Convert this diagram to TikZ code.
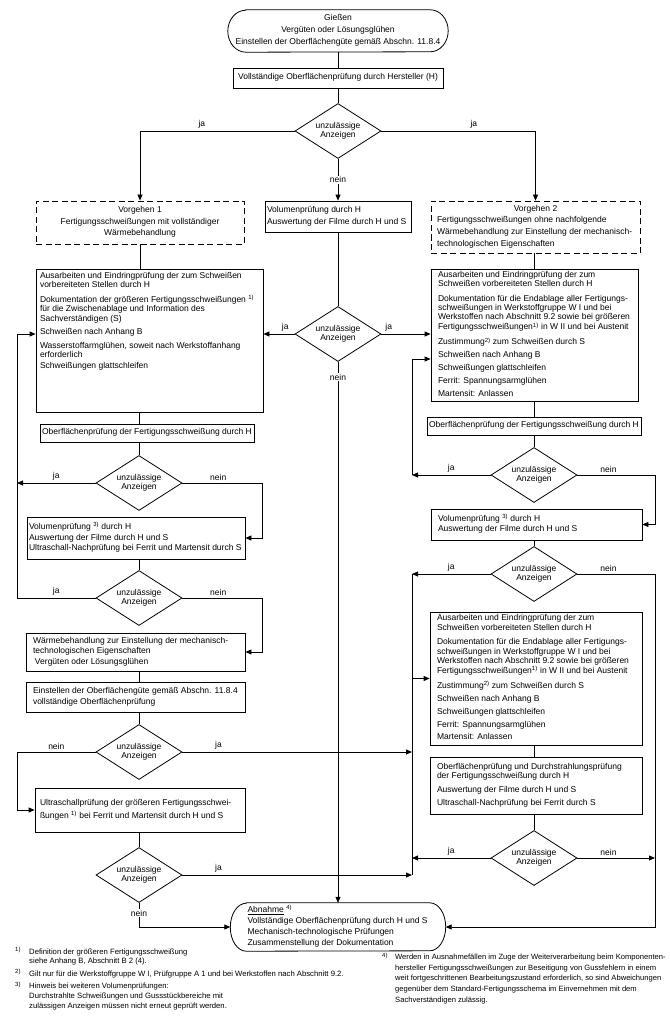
\documentclass[tikz,border=0pt]{standalone}
\usepackage{fontspec}
\setmainfont{Liberation Sans}
\usetikzlibrary{arrows.meta,shapes.geometric,calc}
\newcommand{\TB}[4]{\parbox[c][#2][c]{#1}{\hspace*{#3}\begin{tabular}[t]{@{}l@{}}#4\end{tabular}}}
\newcommand{\TBtop}[5]{\parbox[c][#2][t]{#1}{\vspace*{#4}\hspace*{#3}\begin{tabular}[t]{@{}l@{}}#5\end{tabular}}}
\newcommand{\TBc}[3]{\parbox[c][#2][c]{#1}{\centering\begin{tabular}[t]{@{}c@{}}#3\end{tabular}}}
\newcommand{\fnmark}[1]{\raisebox{2.6pt}{\fontsize{6}{6}\selectfont #1}}
\newcommand{\stadium}[3]{\draw[ln] ([xshift=#2]#1.north west) -- ([xshift=-#2]#1.north east) arc[start angle=90,end angle=-90,x radius=#2,y radius=#3] -- ([xshift=#2]#1.south west) arc[start angle=270,end angle=90,x radius=#2,y radius=#3] -- cycle;}
\tikzset{
  every node/.style={font=\fontsize{8.5}{9.4}\selectfont},
  ln/.style={line width=0.8pt},
  box/.style={draw, line width=0.8pt, inner sep=0pt},
  dbox/.style={box, dash pattern=on 6pt off 3.5pt},
  term/.style={draw=none, inner sep=0pt},
  dia/.style={draw, diamond, aspect=1.5, inner sep=0pt, minimum width=86pt, minimum height=55pt, align=center, line width=0.8pt},
  arr/.style={-{Triangle[length=6pt,width=5pt]}},
  lbl/.style={inner sep=1pt},
  fn/.style={inner sep=0pt, anchor=north west}
}
\begin{document}
\begin{tikzpicture}[x=1pt,y=-1pt]
\fill[white] (0,0) rectangle (669,1024);
\useasboundingbox (0,0) rectangle (669,1024);

\coordinate (xL) at (17,0);
\coordinate (xM) at (262,0);
\coordinate (xR1) at (412,0);
\coordinate (xR2) at (655,0);

% top
\node[term] (S) at (338,31) {\TBc{220pt}{42pt}{Gießen\\[2.5pt]Vergüten oder Lösungsglühen\\[2.5pt]Einstellen der Oberflächengüte gemäß Abschn. 11.8.4}};
\stadium{S}{18pt}{21pt}
\node[box] (B2) at (338,78) {\TBc{210pt}{20pt}{Vollständige Oberflächenprüfung durch Hersteller (H)}};
\node[dia] (D1) at (338,131) {unzulässige\\Anzeigen};

% second row
\node[dbox] (V1) at (140,222.5) {\TBc{208pt}{43pt}{Vorgehen 1\\[2pt]Fertigungsschweißungen mit vollständiger\\[2pt]Wärmebehandlung}};
\node[box] (VC) at (338,216.5) {\TB{146pt}{31pt}{2pt}{Volumenprüfung durch H\\[2pt]Auswertung der Filme durch H und S}};
\node[dbox] (V2) at (535.5,227) {\TB{209pt}{52pt}{6pt}{\makebox[197pt][c]{Vorgehen 2}\\[2.5pt]Fertigungsschweißungen ohne nachfolgende\\[2.5pt]Wärmebehandlung zur Einstellung der mechanisch-\\[2.5pt]technologischen Eigenschaften}};

% big boxes
\node[box] (B1) at (149.5,340.5) {\TBtop{227pt}{143pt}{4pt}{2.5pt}{Ausarbeiten und Eindringprüfung der zum Schweißen\\
vorbereiteten Stellen durch H\\[5pt]
Dokumentation der größeren Fertigungsschweißungen \textsuperscript{1)}\\
für die Zwischenablage und Information des\\
Sachverständigen (S)\\[3.5pt]
Schweißen nach Anhang B\\[5pt]
Wasserstoffarmglühen, soweit nach Werkstoffanhang\\
erforderlich\\[1pt]
Schweißungen glattschleifen}};
\node[dia] (D2) at (338,334) {unzulässige\\Anzeigen};
\node[box] (BR1) at (534.5,335) {\TB{207pt}{132pt}{7pt}{Ausarbeiten und Eindringprüfung der zum\\
Schweißen vorbereiteten Stellen durch H\\[5pt]
Dokumentation für die Endablage aller Fertigungs-\\
schweißungen in Werkstoffgruppe W I und bei\\
Werkstoffen nach Abschnitt 9.2 sowie bei größeren\\
Fertigungsschweißungen\textsuperscript{1)} in W II und bei Austenit\\[5pt]
Zustimmung\textsuperscript{2)} zum Schweißen durch S\\[3.5pt]
Schweißen nach Anhang B\\[3.5pt]
Schweißungen glattschleifen\\[3.5pt]
Ferrit: Spannungsarmglühen\\[3.5pt]
Martensit: Anlassen}};
\coordinate (BR1in) at ($(BR1.west)+(0,24)$);

% left column
\node[box] (OL) at (147,433) {\TBc{214pt}{18pt}{Oberflächenprüfung der Fertigungsschweißung durch H}};
\node[dia] (DL1) at (139,483) {unzulässige\\Anzeigen};
\node[box] (VL) at (136,538) {\TB{218pt}{42pt}{2pt}{Volumenprüfung \textsuperscript{3)} durch H\\[1pt]Auswertung der Filme durch H und S\\[1pt]Ultraschall-Nachprüfung bei Ferrit und Martensit durch S}};
\node[dia] (DL2) at (139,598) {unzulässige\\Anzeigen};
\node[box] (W) at (135.5,652) {\TB{219pt}{38pt}{7pt}{Wärmebehandlung zur Einstellung der mechanisch-\\technologischen Eigenschaften\\[1.5pt]\hspace{2pt}Vergüten oder Lösungsglühen}};
\node[box] (E) at (135.5,697) {\TB{219pt}{30pt}{7pt}{Einstellen der Oberflächengüte gemäß Abschn. 11.8.4\\[1.5pt]vollständige Oberflächenprüfung}};
\node[dia] (DL3) at (139,752) {unzulässige\\Anzeigen};
\node[box] (U) at (140,810) {\TB{210pt}{44pt}{5pt}{Ultraschallprüfung der größeren Fertigungsschwei-\\[3pt]ßungen \textsuperscript{1)} bei Ferrit und Martensit durch H und S}};
\node[dia] (DL4) at (139,875) {unzulässige\\Anzeigen};

% right column
\node[box] (OR) at (534,426) {\TBc{214pt}{18pt}{Oberflächenprüfung der Fertigungsschweißung durch H}};
\node[dia] (DR1) at (534,475) {unzulässige\\Anzeigen};
\node[box] (VR) at (536.5,524.5) {\TB{211pt}{31pt}{7pt}{Volumenprüfung \textsuperscript{3)} durch H\\[1pt]Auswertung der Filme durch H und S}};
\node[dia] (DR2) at (534,574) {unzulässige\\Anzeigen};
\node[box] (BR2) at (536,678.5) {\TB{212pt}{133pt}{7pt}{Ausarbeiten und Eindringprüfung der zum\\
Schweißen vorbereiteten Stellen durch H\\[5pt]
Dokumentation für die Endablage aller Fertigungs-\\
schweißungen in Werkstoffgruppe W I und bei\\
Werkstoffen nach Abschnitt 9.2 sowie bei größeren\\
Fertigungsschweißungen\textsuperscript{1)} in W II und bei Austenit\\[5pt]
Zustimmung\textsuperscript{2)} zum Schweißen durch S\\[3.5pt]
Schweißen nach Anhang B\\[3.5pt]
Schweißungen glattschleifen\\[3.5pt]
Ferrit: Spannungsarmglühen\\[3.5pt]
Martensit: Anlassen}};
\node[box] (OR3) at (536,785.5) {\TB{212pt}{57pt}{7pt}{Oberflächenprüfung und Durchstrahlungsprüfung\\
der Fertigungsschweißung durch H\\[5pt]
Auswertung der Filme durch H und S\\[3.5pt]
Ultraschall-Nachprüfung bei Ferrit durch S}};
\node[dia] (DR3) at (534,858) {unzulässige\\Anzeigen};

% end
\node[term] (AB) at (338,927) {\TB{215pt}{48pt}{17pt}{\underline{Abnahme} \textsuperscript{4)}\\[1.5pt]Vollständige Oberflächenprüfung durch H und S\\[1.5pt]Mechanisch-technologische Prüfungen\\[1.5pt]Zusammenstellung der Dokumentation}};
\stadium{AB}{16pt}{24pt}

% footnotes
\node[fn] (F1) at (15,947) {\fontsize{7.7}{9.8}\selectfont\begin{tabular}{@{}p{14pt}@{}l@{}}
\fnmark{1)} & Definition der größeren Fertigungsschweißung\\
 & siehe Anhang B, Abschnitt B 2 (4).\\[2.5pt]
\fnmark{2)} & Gilt nur für die Werkstoffgruppe W I, Prüfgruppe A 1 und bei Werkstoffen nach Abschnitt 9.2.\\[2.5pt]
\fnmark{3)} & Hinweis bei weiteren Volumenprüfungen:\\
 & Durchstrahlte Schweißungen und Gussstückbereiche mit\\
 & zulässigen Anzeigen müssen nicht erneut geprüft werden.
\end{tabular}};
\node[fn] (F4) at (382,952) {\fontsize{7.6}{10.6}\selectfont\begin{tabular}{@{}p{13pt}@{}l@{}}
\fnmark{4)} & Werden in Ausnahmefällen im Zuge der Weiterverarbeitung beim Komponenten-\\
 & hersteller Fertigungsschweißungen zur Beseitigung von Gussfehlern in einem\\
 & weit fortgeschrittenen Bearbeitungszustand erforderlich, so sind Abweichungen\\
 & gegenüber dem Standard-Fertigungsschema im Einvernehmen mit dem\\
 & Sachverständigen zulässig.
\end{tabular}};

% connectors top
\draw[ln] (S.south) -- (B2.north);
\draw[ln] (B2.south) -- (D1.north);
\draw[ln,arr] (D1.west) -- node[lbl,above=1pt,pos=0.6]{ja} (V1.north |- D1.west) -- (V1.north);
\draw[ln,arr] (D1.east) -- node[lbl,above=1pt,pos=0.6]{ja} (V2.north |- D1.east) -- (V2.north);
\draw[ln,arr] (D1.south) -- node[lbl,fill=white]{nein} (VC.north);
\draw[ln] (V1.south) -- (V1.south |- B1.north);
\draw[ln] (VC.south) -- (D2.north);
\draw[ln] (DR1.north |- V2.south) -- (DR1.north |- BR1.north);

% middle diamond
\draw[ln,arr] (D2.west) -- node[lbl,above=1pt,pos=0.3]{ja} (D2.west -| B1.east);
\draw[ln,arr] (D2.east) -- node[lbl,above=1pt,pos=0.15]{ja} (D2.east -| BR1.west);
\draw[ln,arr] (D2.south) -- node[lbl,fill=white,pos=0.028]{nein} (AB.north);

% left chain
\draw[ln] (DL1.north |- B1.south) -- (DL1.north |- OL.north);
\draw[ln] (DL1.north |- OL.south) -- (DL1.north);
\draw[ln,arr] (DL1.west) -- node[lbl,above=1pt]{ja} (xL |- DL1.west);
\draw[ln,arr] (DL1.east) -- node[lbl,above=1pt,pos=0.45]{nein} (xM |- DL1.east) -- (xM |- VL.east) -- (VL.east);
\draw[ln] (DL2.north |- VL.south) -- (DL2.north);
\draw[ln,arr] (DL2.west) -- node[lbl,above=1pt]{ja} (xL |- DL2.west) -- (xL |- D2.west) -- (B1.west |- D2.west);
\draw[ln,arr] (DL2.east) -- node[lbl,above=1pt,pos=0.45]{nein} (xM |- DL2.east) -- (xM |- W.east) -- (W.east);
\draw[ln] (DL3.north |- W.south) -- (DL3.north |- E.north);
\draw[ln] (DL3.north |- E.south) -- (DL3.north);
\draw[ln,arr] (DL3.west) -- node[lbl,above=1pt]{nein} (xL |- DL3.west) -- (xL |- U.west) -- (U.west);
\draw[ln,arr] (DL3.east) -- node[lbl,above=1pt,pos=0.157]{ja} (xR1 |- DL3.east);
\draw[ln] (DL4.north |- U.south) -- (DL4.north);
\draw[ln,arr] (DL4.east) -- node[lbl,above=1pt,pos=0.157]{ja} (xR1 |- DL4.east);
\draw[ln,arr] (DL4.south) -- node[lbl,fill=white,pos=0.42]{nein} (DL4.south |- AB.west) -- (AB.west);

% right chain
\draw[ln] (DR1.north |- BR1.south) -- (DR1.north |- OR.north);
\draw[ln] (DR1.north |- OR.south) -- (DR1.north);
\draw[ln,arr] (DR1.west) -- node[lbl,above=1pt]{ja} (xR1 |- DR1.west);
\draw[ln,arr] (xR1 |- DR1.west) -- (xR1 |- BR1in) -- (BR1in);
\draw[ln,arr] (DR1.east) -- node[lbl,above=1pt,pos=0.4]{nein} (xR2 |- DR1.east) -- (xR2 |- VR.east) -- (VR.east);
\draw[ln] (DR2.north |- VR.south) -- (DR2.north);
\draw[ln,arr] (DR2.west) -- node[lbl,above=1pt]{ja} (xR1 |- DR2.west);
\draw[ln,arr] (DR2.east) -- node[lbl,above=1pt,pos=0.4]{nein} (xR2 |- DR2.east) -- (xR2 |- AB.east) -- (AB.east);
\draw[ln] (xR1 |- DR2.west) -- (xR1 |- DL4.east);
\draw[ln,arr] (xR1 |- BR2.west) -- (BR2.west);
\draw[ln] (DR3.north |- BR2.south) -- (DR3.north |- OR3.north);
\draw[ln] (DR3.north |- OR3.south) -- (DR3.north);
\draw[ln,arr] (DR3.west) -- node[lbl,above=1pt]{ja} (xR1 |- DR3.west);
\draw[ln,arr] (DR3.east) -- node[lbl,above=1pt,pos=0.4]{nein} (xR2 |- DR3.east);
\end{tikzpicture}
\end{document}
